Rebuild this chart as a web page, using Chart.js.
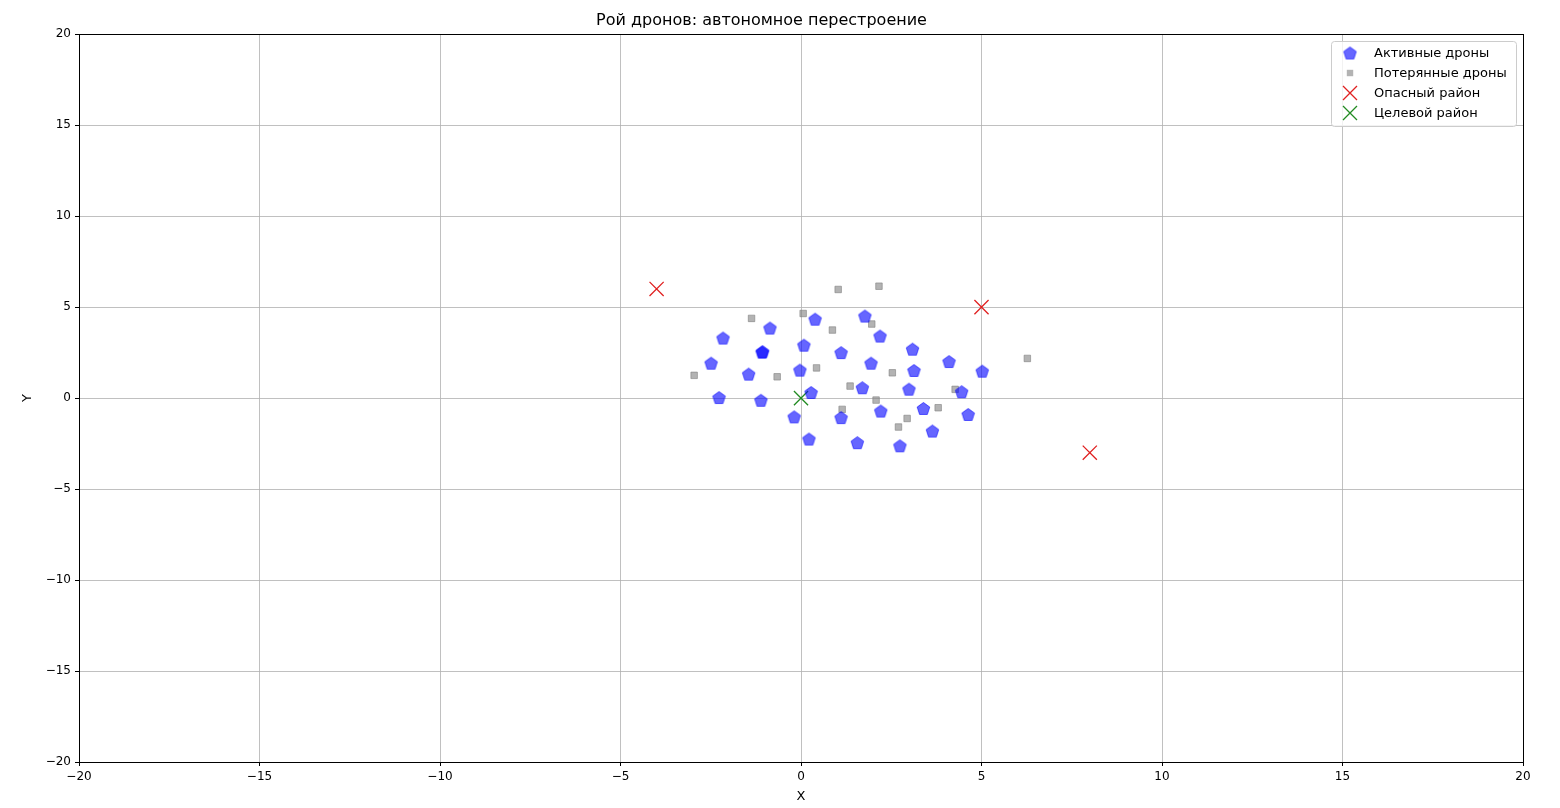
<!DOCTYPE html>
<html>
<head>
<meta charset="utf-8">
<script src="https://cdn.jsdelivr.net/npm/chart.js@4.4.1/dist/chart.umd.min.js"></script>
<style>
  html, body { margin: 0; padding: 0; background: #fff; }
  #wrap { width: 1560px; height: 808px; }
</style>
</head>
<body>
<div id="wrap"><canvas id="graph_swarm" width="1560" height="808"></canvas></div>
<script>
// данные
var activos_x = [-2.16, -0.86, -1.08, -1.06, -2.49, -1.45, -2.27, -1.11, 0.08, 0.39, -0.03, 1.11, 1.77, 2.19, 1.94, 3.09, 3.13, 1.70, 2.99, 4.10, 5.02, 4.45, 0.28, -0.19, 1.11, 2.21, 3.39, 4.63, 3.64, 0.22, 1.56, 2.74];
var activos_y = [3.30, 3.85, 2.53, 2.55, 1.92, 1.32, 0.03, -0.12, 2.91, 4.34, 1.54, 2.50, 4.51, 3.41, 1.92, 2.69, 1.52, 0.57, 0.49, 2.01, 1.48, 0.35, 0.31, -1.03, -1.07, -0.71, -0.57, -0.90, -1.81, -2.25, -2.45, -2.62];
var perdidos_x = [1.03, 2.16, -1.37, 0.06, 1.96, 0.87, 0.43, -2.96, -0.66, 1.36, 1.14, 2.53, 4.27, 2.08, 3.80, 2.94, 2.70, 6.27];
var perdidos_y = [5.97, 6.15, 4.38, 4.65, 4.07, 3.74, 1.66, 1.25, 1.17, 0.66, -0.62, 1.39, 0.48, -0.11, -0.53, -1.12, -1.59, 2.18];
var peligro_x = [-4, 5, 8];
var peligro_y = [6, 5, -3];
var objetivo_x = [0];
var objetivo_y = [0];
var ticks_xy = [-20, -15, -10, -5, 0, 5, 10, 15, 20];

var FUENTE = "'DejaVu Sans', sans-serif";

function puntos(xs, ys) {
    var out = [];
    for (var i = 0; i < xs.length; i++) out.push({x: xs[i], y: ys[i]});
    return out;
}

// pentagono para los drones activos
function hacerPentagono(r) {
    var c = document.createElement('canvas');
    var s = Math.ceil(r * 2 + 3);
    c.width = s; c.height = s;
    var g = c.getContext('2d');
    g.beginPath();
    for (var k = 0; k < 5; k++) {
        var a = -Math.PI / 2 + k * 2 * Math.PI / 5;
        var px = s / 2 + r * Math.cos(a), py = s / 2 + r * Math.sin(a) + 0.6;
        if (k === 0) g.moveTo(px, py); else g.lineTo(px, py);
    }
    g.closePath();
    g.fillStyle = 'rgba(0,0,255,0.6)';
    g.fill();
    g.lineWidth = 1;
    g.strokeStyle = 'rgba(0,0,255,0.6)';
    g.stroke();
    return c;
}
var pentagono = hacerPentagono(6.6);

var datos_activos = {label: "Активные дроны", data: puntos(activos_x, activos_y), pointStyle: pentagono,
    pointRadius: 7, backgroundColor: 'rgba(0,0,255,0.6)', borderColor: 'rgba(0,0,255,0.6)'};
var datos_perdidos = {label: "Потерянные дроны", data: puntos(perdidos_x, perdidos_y), pointStyle: 'rect',
    pointRadius: 4.6, backgroundColor: 'rgba(128,128,128,0.6)', borderColor: 'rgba(128,128,128,0.6)', borderWidth: 1};
var datos_peligro = {label: "Опасный район", data: puntos(peligro_x, peligro_y), pointStyle: 'crossRot',
    pointRadius: 10, borderColor: '#e02020', backgroundColor: '#e02020', borderWidth: 1.3};
var datos_objetivo = {label: "Целевой район", data: puntos(objetivo_x, objetivo_y), pointStyle: 'crossRot',
    pointRadius: 10, borderColor: '#228b22', backgroundColor: '#228b22', borderWidth: 1.3};

// marco negro y leyenda dentro del area
var marcoYLeyenda = {
    id: 'marcoYLeyenda',
    afterDraw: function(chart) {
        var ctx = chart.ctx, a = chart.chartArea;
        ctx.save();
        ctx.strokeStyle = '#000';
        ctx.lineWidth = 1;
        ctx.strokeRect(Math.round(a.left) + 0.5, Math.round(a.top) + 0.5,
            Math.round(a.right - a.left), Math.round(a.bottom - a.top));

        var bx = 1331, by = 41, bw = 185, bh = 85;
        ctx.fillStyle = 'rgba(255,255,255,0.8)';
        ctx.strokeStyle = '#cccccc';
        ctx.beginPath();
        ctx.roundRect(bx + 0.5, by + 0.5, bw, bh, 3);
        ctx.fill();
        ctx.stroke();

        var sets = chart.data.datasets;
        ctx.font = '13px ' + FUENTE;
        ctx.textBaseline = 'middle';
        for (var i = 0; i < sets.length; i++) {
            var ds = sets[i];
            var cy = by + 12 + i * 20, cx = bx + 19;
            ctx.fillStyle = ds.backgroundColor;
            ctx.strokeStyle = ds.borderColor;
            ctx.lineWidth = ds.borderWidth || 1;
            ctx.beginPath();
            if (ds.pointStyle === pentagono) {
                ctx.drawImage(pentagono, cx - pentagono.width / 2, cy - pentagono.height / 2);
            } else if (ds.pointStyle === 'rect') {
                ctx.rect(cx - 3.2, cy - 3.2, 6.4, 6.4);
                ctx.fill();
            } else {
                ctx.moveTo(cx - 7, cy - 7); ctx.lineTo(cx + 7, cy + 7);
                ctx.moveTo(cx + 7, cy - 7); ctx.lineTo(cx - 7, cy + 7);
                ctx.stroke();
            }
            ctx.fillStyle = '#000';
            ctx.fillText(ds.label, bx + 43, cy + 1);
        }
        ctx.restore();
    }
};

function etiqueta(v) {
    return String(v).replace('-', '\u2212');
}

var grafico = new Chart(document.getElementById("graph_swarm").getContext("2d"), {
    type: 'scatter',
    data: {datasets: [datos_activos, datos_perdidos, datos_peligro, datos_objetivo]},
    options: {
        responsive: false,
        animation: false,
        layout: {padding: {left: 0, right: 37, top: 0, bottom: 0}},
        plugins: {
            legend: {display: false},
            tooltip: {enabled: false},
            title: {display: true, text: "Рой дронов: автономное перестроение", color: '#000',
                font: {family: FUENTE, size: 16, weight: 'normal'}, padding: {top: 11, bottom: 4}}
        },
        scales: {
            x: {
                type: 'linear', min: -20, max: 20,
                afterFit: function(s) { s.height = 46; },
                afterBuildTicks: function(s) { s.ticks = ticks_xy.map(function(v) { return {value: v}; }); },
                ticks: {color: '#000', font: {family: FUENTE, size: 12}, padding: 4, maxRotation: 0,
                    callback: function(v) { return etiqueta(v); }},
                grid: {color: '#b0b0b0', lineWidth: 0.8, tickColor: '#000', tickLength: 4, tickWidth: 1},
                border: {color: '#000', width: 1},
                title: {display: true, text: 'X', color: '#000', font: {family: FUENTE, size: 13}, padding: {top: 2, bottom: 4}}
            },
            y: {
                type: 'linear', min: -20, max: 20,
                afterFit: function(s) { s.width = 79; },
                afterBuildTicks: function(s) { s.ticks = ticks_xy.map(function(v) { return {value: v}; }); },
                ticks: {color: '#000', font: {family: FUENTE, size: 12}, padding: 4,
                    callback: function(v) { return etiqueta(v); }},
                grid: {color: '#b0b0b0', lineWidth: 0.8, tickColor: '#000', tickLength: 4, tickWidth: 1},
                border: {color: '#000', width: 1},
                title: {display: true, text: 'Y', color: '#000', font: {family: FUENTE, size: 13}, padding: {top: 20, bottom: 0}}
            }
        }
    },
    plugins: [marcoYLeyenda]
});
</script>
</body>
</html>
